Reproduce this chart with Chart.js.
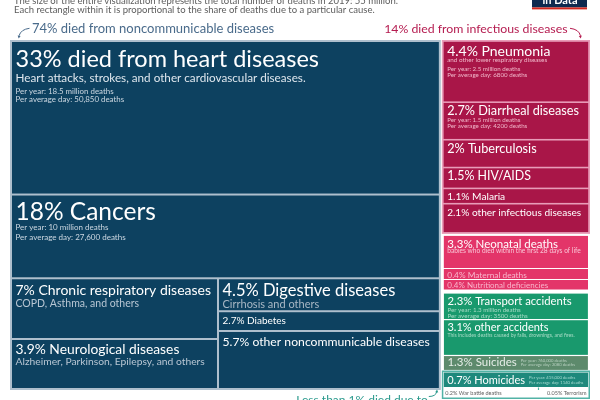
<!DOCTYPE html>
<html><head><meta charset="utf-8">
<script src="https://cdn.jsdelivr.net/npm/chart.js@4.4.1/dist/chart.umd.min.js"></script>
<style>html,body{margin:0;padding:0;background:#fff;}canvas{display:block;}</style>
</head><body>
<canvas id="c" width="600" height="400"></canvas>
<script>
// ---------- DATA ----------
const headerLines = [
  'The size of the entire visualization represents the total number of deaths in 2019: 55 million.',
  'Each rectangle within it is proportional to the share of deaths due to a particular cause.'
];
const groupLabels = ['74% died from noncommunicable diseases', '14% died from infectious diseases', 'Less than 1% died due to'];

const ncdCauses = ['heart diseases', 'Cancers', 'Chronic respiratory diseases', 'Neurological diseases', 'Digestive diseases', 'Diabetes', 'other noncommunicable diseases'];
const ncdShares = [33, 18, 7, 3.9, 4.5, 2.7, 5.7];
const ncdNotes = ['Heart attacks, strokes, and other cardiovascular diseases.', '', 'COPD, Asthma, and others', 'Alzheimer, Parkinson, Epilepsy, and others', 'Cirrhosis and others', '', ''];
const ncdPerYear = ['18.5 million', '10 million', '', '', '', '', ''];
const ncdPerDay = ['50,850', '27,600', '', '', '', '', ''];

const infCauses = ['Pneumonia', 'Diarrheal diseases', 'Tuberculosis', 'HIV/AIDS', 'Malaria', 'other infectious diseases'];
const infShares = [4.4, 2.7, 2, 1.5, 1.1, 2.1];
const infNotes = ['and other lower respiratory diseases', '', '', '', '', ''];
const infPerYear = ['2.5 million', '1.5 million', '', '', '', ''];
const infPerDay = ['6800', '4200', '', '', '', ''];

const neoCauses = ['Neonatal deaths', 'Maternal deaths', 'Nutritional deficiencies'];
const neoShares = [3.3, 0.4, 0.4];
const neoNotes = ['babies who died within the first 28 days of life', '', ''];

const injCauses = ['Transport accidents', 'other accidents', 'Suicides', 'Homicides', 'War battle deaths', 'Terrorism'];
const injShares = [2.3, 3.1, 1.3, 0.7, 0.2, 0.05];
const injNotes = ['', 'This includes deaths caused by falls, drownings, and fires.', '', '', '', ''];
const injPerYear = ['1.3 million', '', '760,000', '415,000', '', ''];
const injPerDay = ['3500', '', '2080', '1140', '', ''];

// ---------- STYLE ----------
const FONT = 'Lato, "Noto Sans", sans-serif';
const STYLE = {
  ncdBottomGap: 9,
  ncdFill: '#0d4160', ncdFrame: '#aebfcd',
  infFill: '#a91648', infFrame: '#e89cb8',
  neoFill: '#e33569',
  accFill: '#19996d', suiFill: '#5d8a6c', homFill: '#1e897c', vioFrame: '#52b3a6',
  // minimum cell sizes (px) so that labels stay legible
  minNcdBottomW: [207, 0],
  minNcdLeftH: [0, 50],
  minNcdRightH: [0, 0, 58],
  minNeo: [0, 11, 10.5],
  minInj: [0, 0, 0, 27],
  warRow: 10, minTerrorW: 50,
  annNcd: '#4a6b8b', annInf: '#b51c50', annVio: '#2b9a8d'
};
const ncdText = [
  {t:23.5, o:24.5, n:11.7, nGap:15.3, nc:'#dfe7ee', d:7.9, dGap:11.7, dLine:8.7, dc:'#cdd8e2'},
  {t:24.5, o:24.2, d:8, dGap:10.3, dLine:9.5, dc:'#cdd8e2'},
  {t:14, o:15.7, n:10.5, nGap:12.3, nc:'#b8c6d3'},
  {t:13.8, o:13.5, n:10.3, nGap:11, nc:'#b8c6d3'},
  {t:16.5, o:16.5, n:11, nGap:12, nc:'#a9b8c5'},
  {t:10, o:11.5},
  {t:12.2, o:13.8}
];
const infText = [
  {t:14, o:14, n:6.3, nGap:6, nc:'#f2b8cb', d:6.2, dGap:9, dLine:5.8, dc:'#f2b8cb'},
  {t:12.7, o:12.2, d:6.2, dGap:7, dLine:5.5, dc:'#f2b8cb'},
  {t:12.7, o:12.2}, {t:12.4, o:11.8}, {t:10.2, o:10.3}, {t:10.1, o:12}
];
const neoText = [
  {t:11.5, o:11.7, n:6.6, nGap:5.8, nc:'#f9c4d5'},
  {t:8.3, o:8.8, c:'#f9b6cc'}, {t:8, o:8.3, c:'#f9b6cc'}
];
const injText = [
  {t:11.3, o:11, d:6.2, dGap:7.5, dLine:6, dc:'#a8dcc6'},
  {t:11, o:11, n:5.1, nGap:6, nc:'#a8dcc6'},
  {t:11.5, o:10.3, d:4.2, side:true, c:'#e6eee8', dc:'#b9d1c1'},
  {t:11, o:11, d:4.2, side:true, dc:'#a8dcd2'}
];

const sum = a => a.reduce((s, v) => s + v, 0);

const treemapPlugin = {
  id: 'treemap',
  afterDraw(chart) {
    const ctx = chart.ctx, xs = chart.scales.x, ys = chart.scales.y;
    const X = v => xs.getPixelForValue(v), Y = v => ys.getPixelForValue(v);
    const vx = p => xs.getValueForPixel(p), vy = p => ys.getValueForPixel(p);
    const dyPx = p => Math.abs(vy(ys.top + p) - vy(ys.top));
    const dxPx = p => Math.abs(vx(xs.left + p) - vx(xs.left));
    const toPx = r => ({l: X(r.x0), r: X(r.x1), t: Y(r.y0), b: Y(r.y1)});
    const shrink = (r, d) => ({x0: vx(X(r.x0) + d), x1: vx(X(r.x1) - d), y0: vy(Y(r.y0) + d), y1: vy(Y(r.y1) - d)});

    function parts(a0, a1, values, mins) {
      const total = a1 - a0;
      const fixed = values.map(() => false);
      let sizes = [];
      for (let it = 0; it < 5; it++) {
        const freeVal = sum(values.filter((v, i) => !fixed[i]));
        const fixedLen = sum(values.map((v, i) => fixed[i] ? mins[i] : 0));
        sizes = values.map((v, i) => fixed[i] ? mins[i] : v / freeVal * (total - fixedLen));
        let changed = false;
        sizes.forEach((s, i) => { if (!fixed[i] && mins[i] && s < mins[i]) { fixed[i] = true; changed = true; } });
        if (!changed) break;
      }
      const out = []; let p = a0;
      sizes.forEach(s => { out.push([p, p + s]); p += s; });
      return out;
    }
    const splitV = (r, vals, minsPx) => parts(r.y0, r.y1, vals, vals.map((v, i) => dyPx((minsPx || [])[i] || 0)))
      .map(([a, b]) => ({x0: r.x0, x1: r.x1, y0: a, y1: b}));
    const splitH = (r, vals, minsPx) => parts(r.x0, r.x1, vals, vals.map((v, i) => dxPx((minsPx || [])[i] || 0)))
      .map(([a, b]) => ({x0: a, x1: b, y0: r.y0, y1: r.y1}));

    function fillBox(b, color) { ctx.fillStyle = color; ctx.fillRect(b.l, b.t, b.r - b.l, b.b - b.t); }
    function text(str, x, y, size, color, align) {
      ctx.font = `${size}px ${FONT}`; ctx.fillStyle = color;
      ctx.textAlign = align || 'left'; ctx.textBaseline = 'alphabetic';
      ctx.fillText(str, x, y);
      return ctx.measureText(str).width;
    }
    function label(b, title, note, perYear, perDay, s) {
      const x = b.l + 3.5;
      const tb = b.t + s.o;
      const w = text(title, x, tb, s.t, s.c || '#ffffff');
      let y = tb;
      if (note && s.n) { y = tb + s.nGap; text(note, x, y, s.n, s.nc || '#ffffff'); }
      if (perYear && s.d) {
        const l1 = `Per year: ${perYear} deaths`, l2 = `Per average day: ${perDay} deaths`;
        if (s.side) {
          text(l1, x + w + 4, tb - 4.6, s.d, s.dc); text(l2, x + w + 4, tb, s.d, s.dc);
        } else {
          y += s.dGap; text(l1, x, y, s.d, s.dc);
          y += s.dLine; text(l2, x, y, s.d, s.dc);
        }
      }
    }
    const pct = v => v + '%';

    ctx.save();
    // ---- header ----
    text(headerLines[0], 14, 3.6, 9.5, '#5c5c5c');
    text(headerLines[1], 14, 13.2, 9.5, '#5c5c5c');
    ctx.fillStyle = '#0e2a4f'; ctx.fillRect(532, 0, 55, 7.4);
    ctx.fillStyle = '#d2281f'; ctx.fillRect(532, 7.4, 55, 2);
    ctx.font = `bold 11px ${FONT}`; ctx.fillStyle = '#fff'; ctx.textAlign = 'center'; ctx.fillText('in Data', 560, 3.6);

    // ---- layout ----
    const ncdSum = sum(ncdShares), infSum = sum(infShares), neoSum = sum(neoShares), injSum = sum(injShares);
    const grand = ncdSum + infSum + neoSum + injSum;
    const all = {x0: xs.min, x1: xs.max, y0: ys.min, y1: ys.max};
    const [leftCol, rightCol] = splitH(all, [ncdSum, grand - ncdSum]);
    leftCol.y1 = vy(Y(leftCol.y1) - STYLE.ncdBottomGap);
    leftCol.x1 = vx(X(leftCol.x1) - 1.5);

    // NCD
    const ncdFrame = toPx(leftCol);
    fillBox(ncdFrame, STYLE.ncdFrame);
    const ncdInner = shrink(leftCol, 1);
    const rows = splitV(ncdInner, [ncdShares[0], ncdShares[1], sum(ncdShares.slice(2))]);
    const bottom = splitH(rows[2], [ncdShares[2] + ncdShares[3], ncdShares[4] + ncdShares[5] + ncdShares[6]], STYLE.minNcdBottomW);
    const lsub = splitV(bottom[0], [ncdShares[2], ncdShares[3]], STYLE.minNcdLeftH);
    const rsub = splitV(bottom[1], [ncdShares[4], ncdShares[5], ncdShares[6]], STYLE.minNcdRightH);
    const ncdCells = [rows[0], rows[1], lsub[0], lsub[1], rsub[0], rsub[1], rsub[2]];
    ncdCells.forEach((c, i) => {
      const b = toPx(shrink(c, 1));
      fillBox(b, STYLE.ncdFill);
      const title = i === 0 ? `${pct(ncdShares[i])} died from ${ncdCauses[i]}` : `${pct(ncdShares[i])} ${ncdCauses[i]}`;
      label(b, title, ncdNotes[i], ncdPerYear[i], ncdPerDay[i], ncdText[i]);
    });

    // right column
    rightCol.x0 = vx(X(rightCol.x0) - 0.5);
    const groups = splitV(rightCol, [infSum, neoSum, injSum]);
    const infFrame = toPx(groups[0]);
    fillBox(infFrame, STYLE.infFrame);
    splitV(shrink(groups[0], 1), infShares).forEach((c, i) => {
      const b = toPx(shrink(c, 0.8));
      fillBox(b, STYLE.infFill);
      label(b, `${pct(infShares[i])} ${infCauses[i]}`, infNotes[i], infPerYear[i], infPerDay[i], infText[i]);
    });
    const neoInner = shrink(groups[1], 1.5);
    splitV(neoInner, neoShares, STYLE.minNeo).forEach((c, i) => {
      const b = toPx(shrink(c, 0.5));
      fillBox(b, STYLE.neoFill);
      label(b, `${pct(neoShares[i])} ${neoCauses[i]}`, neoNotes[i], '', '', neoText[i]);
    });
    const injInner = shrink(groups[2], 1.5);
    const injCells = splitV(injInner, [injShares[0], injShares[1], injShares[2], injShares[3] + injShares[4] + injShares[5]], STYLE.minInj);
    [STYLE.accFill, STYLE.accFill, STYLE.suiFill].forEach((col, i) => {
      const b = toPx(shrink(injCells[i], 0.6));
      fillBox(b, col);
      label(b, `${pct(injShares[i])} ${injCauses[i]}`, injNotes[i], injPerYear[i], injPerDay[i], injText[i]);
    });
    // violence group
    const vio = injCells[3];
    const vioOuter = {x0: groups[2].x0, x1: groups[2].x1, y0: vio.y0, y1: groups[2].y1};
    const vf = toPx(vioOuter);
    fillBox(vf, STYLE.vioFrame);
    const vin = shrink(vioOuter, 1.5);
    fillBox(toPx(vin), '#ffffff');
    const [homR, warR] = splitV(vin, [injShares[3], injShares[4] + injShares[5]], [0, STYLE.warRow]);
    const hb = toPx(homR);
    hb.l += 0.5; hb.r -= 0.5; hb.t += 0.5; hb.b -= 0.5;
    fillBox(hb, STYLE.homFill);
    label(hb, `${pct(injShares[3])} ${injCauses[3]}`, '', injPerYear[3], injPerDay[3], injText[3]);
    const [warC, terC] = splitH(warR, [injShares[4], injShares[5]], [0, STYLE.minTerrorW]);
    const wb = toPx(warC), tbx = toPx(terC);
    text(`${pct(injShares[4])} ${injCauses[4]}`, wb.l + 2, wb.b - 2.6, 5.5, '#5f5f5f');
    text(`${pct(injShares[5])} ${injCauses[5]}`, tbx.r - 2, tbx.b - 2.6, 5.5, '#5f5f5f', 'right');
    ctx.strokeStyle = STYLE.vioFrame; ctx.lineWidth = 1.2;
    ctx.beginPath(); ctx.moveTo(wb.r, wb.t); ctx.lineTo(wb.r, wb.t + 2.5); ctx.stroke();

    // ---- annotations ----
    function arrowHead(x, y, ang, color) {
      ctx.fillStyle = color; ctx.beginPath();
      ctx.moveTo(x, y);
      ctx.lineTo(x - 3.2 * Math.cos(ang - 0.5), y - 3.2 * Math.sin(ang - 0.5));
      ctx.lineTo(x - 3.2 * Math.cos(ang + 0.5), y - 3.2 * Math.sin(ang + 0.5));
      ctx.closePath(); ctx.fill();
    }
    const aY = ncdFrame.t - 6.7;
    text(groupLabels[0], ncdFrame.l + 22, aY, 13, STYLE.annNcd);
    ctx.strokeStyle = STYLE.annNcd; ctx.lineWidth = 1;
    ctx.beginPath(); ctx.moveTo(ncdFrame.l + 19.5, aY - 5); ctx.quadraticCurveTo(ncdFrame.l + 11, aY - 4, ncdFrame.l + 9, aY + 2.5); ctx.stroke();
    arrowHead(ncdFrame.l + 8.7, aY + 5.3, Math.PI / 2 + 0.15, STYLE.annNcd);

    text(groupLabels[1], infFrame.r - 22.5, aY, 12.3, STYLE.annInf, 'right');
    ctx.strokeStyle = STYLE.annInf;
    ctx.beginPath(); ctx.moveTo(infFrame.r - 20, aY - 5); ctx.quadraticCurveTo(infFrame.r - 11, aY - 4, infFrame.r - 9.5, aY + 2.5); ctx.stroke();
    arrowHead(infFrame.r - 9.3, aY + 5.3, Math.PI / 2 - 0.15, STYLE.annInf);

    const lx = vf.l - 12;
    text(groupLabels[2], lx - 2, vf.t + 33.5, 12, STYLE.annVio, 'right');
    ctx.strokeStyle = STYLE.annVio;
    ctx.beginPath(); ctx.moveTo(lx - 1, vf.t + 26); ctx.quadraticCurveTo(lx + 6, vf.t + 26, lx + 7, vf.t + 21); ctx.stroke();
    arrowHead(lx + 7.2, vf.t + 19, -Math.PI / 2 + 0.1, STYLE.annVio);
    ctx.restore();
  }
};

new Chart(document.getElementById('c'), {
  type: 'scatter',
  data: { datasets: [] },
  options: {
    responsive: false, animation: false,
    layout: { padding: { left: 10, right: 10, top: 40, bottom: 1 } },
    plugins: { legend: { display: false }, tooltip: { enabled: false } },
    scales: {
      x: { type: 'linear', min: 0, max: 100, display: false },
      y: { type: 'linear', min: 0, max: 100, reverse: true, display: false }
    }
  },
  plugins: [treemapPlugin]
});
</script>
</body></html>
